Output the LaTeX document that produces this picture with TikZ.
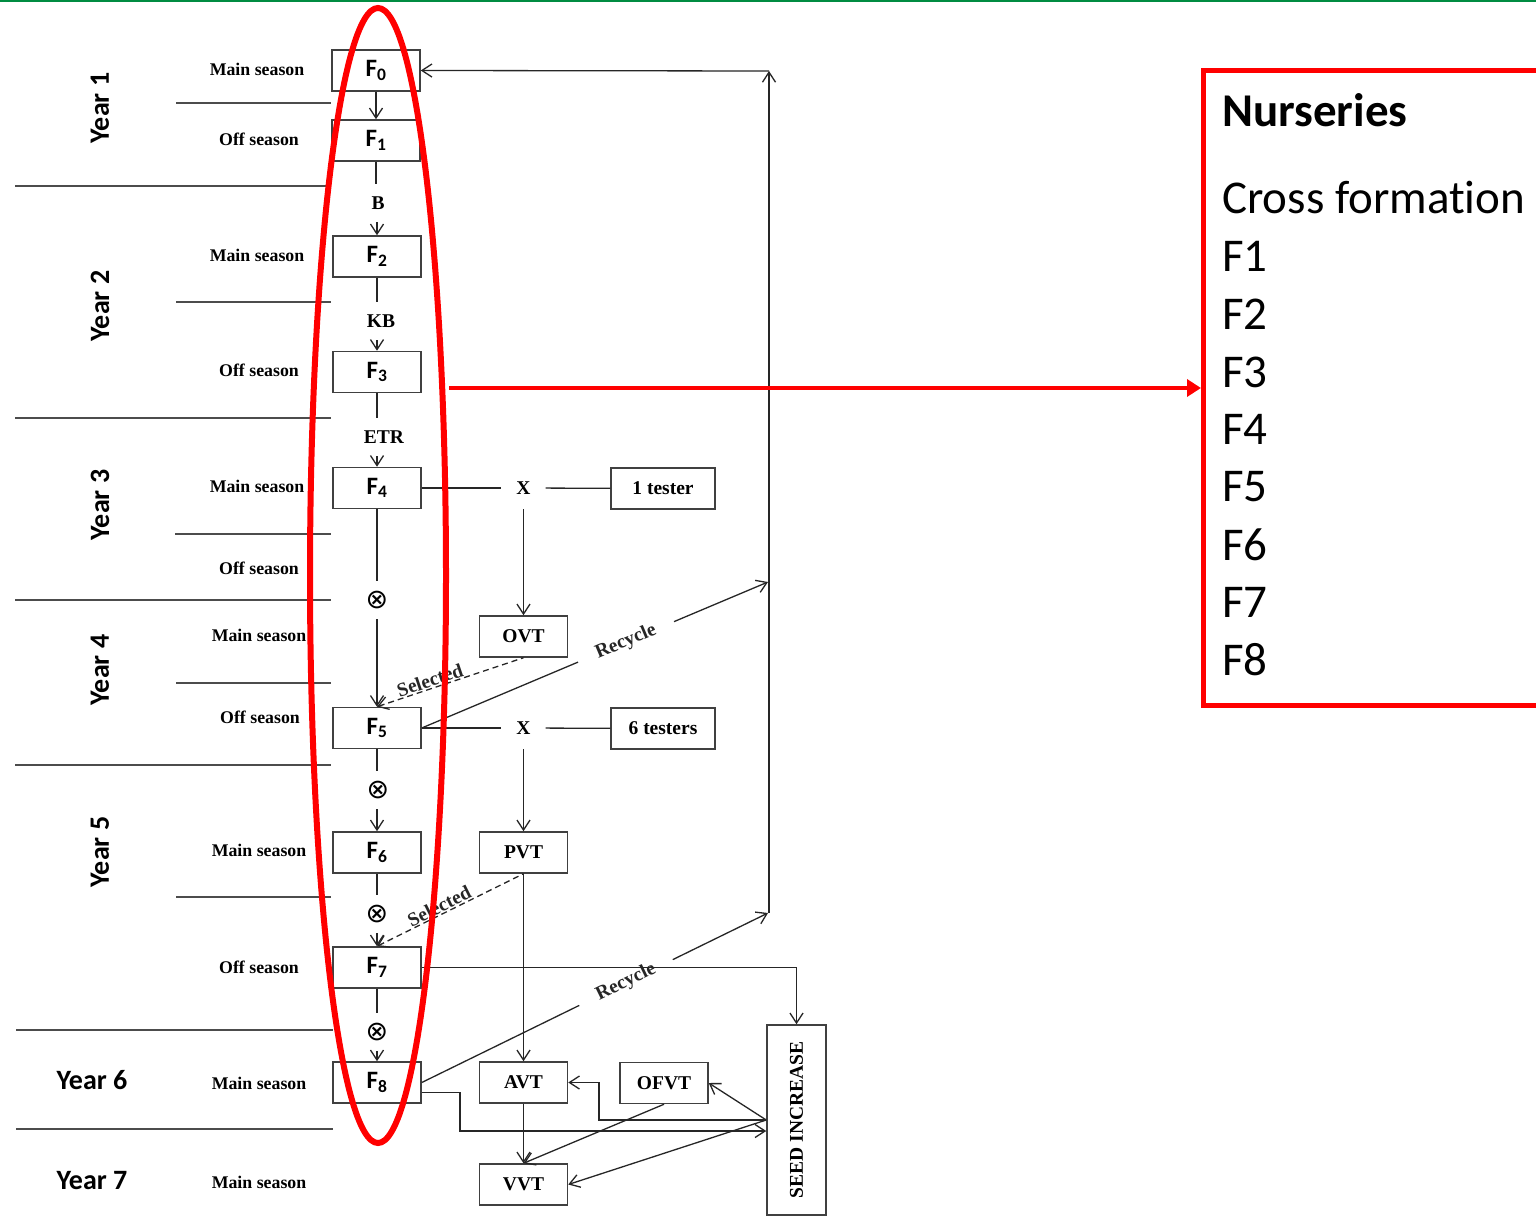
\documentclass[tikz,border=0pt]{standalone}
\usepackage{fontspec}
\setmainfont{Liberation Serif}
\newfontfamily\calibri[Ligatures=NoCommon]{Carlito}
\newfontfamily\dejavu{DejaVu Sans}
\usetikzlibrary{arrows.meta,shapes.geometric,calc}
\definecolor{topgreen}{RGB}{0,140,65}
\begin{document}
\begin{tikzpicture}[x=1pt,y=-1pt,
  >={Straight Barb[length=10pt,width=13pt]},
  conn/.style={line width=1.3pt, black!85},
  sepline/.style={line width=1.5pt, black!70},
  fbox/.style={draw=black!75, line width=1.5pt, minimum width=88pt, minimum height=41pt, inner sep=0pt, font=\calibri\bfseries\fontsize{25}{25}\selectfont},
  tbox/.style={draw=black!75, line width=1.5pt, minimum width=88pt, minimum height=41pt, inner sep=0pt, font=\bfseries\fontsize{19.5}{20}\selectfont},
  midlab/.style={inner sep=0pt, minimum width=30pt, minimum height=38pt, font=\bfseries\fontsize{19.5}{20}\selectfont},
  selfnode/.style={inner sep=0pt, minimum width=30pt, minimum height=38pt, font=\dejavu\fontsize{27}{27}\selectfont},
  xnode/.style={inner sep=0pt, minimum width=44pt, minimum height=42pt, font=\bfseries\fontsize{19.5}{20}\selectfont},
  season/.style={font=\bfseries\fontsize{17.8}{18}\selectfont, inner sep=0pt},
  year/.style={font=\calibri\bfseries\fontsize{28}{28}\selectfont, inner sep=0pt},
  slopelab/.style={font=\bfseries\fontsize{19.5}{20}\selectfont, sloped},
  nurs/.style={font=\calibri\fontsize{47}{47}\selectfont, anchor=west, inner sep=0pt},
]
\useasboundingbox (0,0) rectangle (1536,1222);
\fill[white] (0,0) rectangle (1536,1222);
\draw[topgreen, line width=2.2pt] (0,1) -- (1536,1);

% separator lines
\draw[sepline] (176,103) -- (331,103);
\draw[sepline] (15,186) -- (329,186);
\draw[sepline] (176,302) -- (331,302);
\draw[sepline] (15,418) -- (331,418);
\draw[sepline] (175,534) -- (331,534);
\draw[sepline] (15,600) -- (331,600);
\draw[sepline] (176,683) -- (331,683);
\draw[sepline] (15,765) -- (331,765);
\draw[sepline] (176,897) -- (331,897);
\draw[sepline] (16,1030) -- (333,1030);
\draw[sepline] (16,1129) -- (333,1129);

% years
\node[year, rotate=90] (y1) at (100,108) {Year 1};
\node[year, rotate=90] (y2) at (100,306) {Year 2};
\node[year, rotate=90] (y3) at (100,505) {Year 3};
\node[year, rotate=90] (y4) at (100,670) {Year 4};
\node[year, rotate=90] (y5) at (100,852) {Year 5};
\node[year] (y6) at (92,1080) {Year 6};
\node[year] (y7) at (92,1181) {Year 7};

% seasons
\node[season] (s1) at (257,69) {Main season};
\node[season] (s2) at (259,139) {Off season};
\node[season] (s3) at (257,255) {Main season};
\node[season] (s4) at (259,370) {Off season};
\node[season] (s5) at (257,486) {Main season};
\node[season] (s6) at (259,568) {Off season};
\node[season] (s7) at (259,635) {Main season};
\node[season] (s8) at (260,717) {Off season};
\node[season] (s9) at (259,850) {Main season};
\node[season] (s10) at (259,967) {Off season};
\node[season] (s11) at (259,1083) {Main season};
\node[season] (s12) at (259,1182) {Main season};

% F boxes
\node[fbox] (F0) at (376,70.5) {F\textsubscript{0}};
\node[fbox] (F1) at (376,140.5) {F\textsubscript{1}};
\node[fbox] (F2) at (377,256.5) {F\textsubscript{2}};
\node[fbox] (F3) at (377,372) {F\textsubscript{3}};
\node[fbox] (F4) at (377,488) {F\textsubscript{4}};
\node[fbox] (F5) at (377,728) {F\textsubscript{5}};
\node[fbox] (F6) at (377,852.5) {F\textsubscript{6}};
\node[fbox] (F7) at (377,967.5) {F\textsubscript{7}};
\node[fbox] (F8) at (377,1082.5) {F\textsubscript{8}};

% mid labels
\node[midlab] (B) at (378,203) {B};
\node[midlab] (KB) at (381,321) {KB};
\node[midlab] (ETR) at (384,437) {ETR};
\node[selfnode] (O1) at (377,600) {⊗};
\node[selfnode] (O2) at (378,790) {⊗};
\node[selfnode] (O3) at (377,914) {⊗};
\node[selfnode] (O4) at (377,1032) {⊗};

% right side boxes
\node[xnode] (X1) at (523.5,488) {X};
\node[xnode] (X2) at (523.5,728) {X};
\node[tbox, minimum width=104pt] (T1) at (663,488.5) {1 tester};
\node[tbox, minimum width=104pt] (T6) at (663,728.5) {6 testers};
\node[tbox] (OVT) at (523.5,636.5) {OVT};
\node[tbox] (PVT) at (523.5,852.5) {PVT};
\node[tbox] (AVT) at (523.5,1082.5) {AVT};
\node[tbox] (OFVT) at (664,1083) {OFVT};
\node[tbox] (VVT) at (523.5,1184.5) {VVT};
\node[draw=black!75, line width=1.5pt, minimum width=59pt, minimum height=190pt, inner sep=0pt, font=\bfseries\fontsize{19.5}{20}\selectfont] (SI) at (796.5,1120) {\rotatebox{90}{SEED INCREASE}};

% coordinates
\coordinate (vtop) at (769,71);
\coordinate (vbot) at (769,913);
\coordinate (r1) at (768,582);
\coordinate (r2) at (768,913);
\coordinate (c8) at (460,1131);
\coordinate (elb) at (599,1120);

% main chain
\draw[conn,->] (F0) -- (F1);
\draw[conn] (F1) -- (F1 |- B.north);
\draw[conn,->] (F2 |- B.south) -- (F2);
\draw[conn] (F2) -- (F2 |- KB.north);
\draw[conn,->] (F3 |- KB.south) -- (F3);
\draw[conn] (F3) -- (F3 |- ETR.north);
\draw[conn,->] (F4 |- ETR.south) -- (F4);
\draw[conn] (F4) -- (O1);
\draw[conn,->] (O1) -- (F5);
\draw[conn] (F5) -- (F5 |- O2.north);
\draw[conn,->] (F6 |- O2.south) -- (F6);
\draw[conn] (F6) -- (O3);
\draw[conn,->] (O3) -- (F7);
\draw[conn] (F7) -- (O4);
\draw[conn,->] (O4) -- (F8);

% crosses
\draw[conn] (F4) -- (X1);
\draw[conn] (X1) -- (T1);
\draw[conn,->] (X1) -- (OVT);
\draw[conn] (F5) -- (X2);
\draw[conn] (X2) -- (T6);
\draw[conn,->] (X2) -- (PVT);

% selected
\draw[conn, dash pattern=on 6pt off 4pt, <-] (F5.north) -- node[slopelab, above, inner sep=1pt, pos=0.38] {Selected} (OVT.south);
\draw[conn, dash pattern=on 6pt off 4pt, <-] (F7.north) -- node[slopelab, above, inner sep=1pt, pos=0.45] {Selected} (PVT.south);

% recycle
\draw[conn,->] (F5.east) -- node[slopelab, fill=white, inner xsep=20pt, inner ysep=3pt, pos=0.59] {Recycle} (r1);
\draw[conn,->] (F8.east) -- node[slopelab, fill=white, inner xsep=20pt, inner ysep=3pt, pos=0.59] {Recycle} (r2);
\draw[conn,->] (vbot) -- (vtop);
\draw[conn,->] (vtop) -- (F0.east);

% lower part
\draw[conn,->] (PVT) -- (AVT);
\draw[conn,->] (AVT) -- (VVT);
\draw[conn,->] (OFVT.south) -- (VVT.north);
\draw[conn,->] (F7.east) -| (SI.north);
\draw[conn,->] ([yshift=-10pt]F8.east) -| (c8) -- (c8 -| SI.west);
\draw[conn,->] (SI.west) -- (elb) |- (AVT.east);
\draw[conn,->] (SI.west) -- (OFVT.east);
\draw[conn,->] (SI.west) -- (VVT.east);

% nurseries box
\node[draw=red, line width=5pt, minimum width=360pt, minimum height=635pt, anchor=north west, inner sep=0pt] (NB) at (1201,68) {};
\node[nurs, font=\calibri\bfseries\fontsize{47}{47}\selectfont] (n0) at (1222,110) {Nurseries};
\node[nurs] (n1) at (1222,198) {Cross format{\kern0pt}ion};
\node[nurs] (n2) at (1222,256) {F1};
\node[nurs] (n3) at (1222,314) {F2};
\node[nurs] (n4) at (1222,372) {F3};
\node[nurs] (n5) at (1222,429) {F4};
\node[nurs] (n6) at (1222,487) {F5};
\node[nurs] (n7) at (1222,545) {F6};
\node[nurs] (n8) at (1222,602) {F7};
\node[nurs] (n9) at (1222,660) {F8};

% red ellipse and arrow
\node[ellipse, draw=red, line width=6pt, minimum width=136pt, minimum height=1135pt, inner sep=0pt] (ELL) at (378,575.5) {};
\draw[red, line width=4.5pt, -{Triangle[length=14pt,width=17pt]}] (ELL.east |- NB.west) -- (NB.west);
\end{tikzpicture}
\end{document}
